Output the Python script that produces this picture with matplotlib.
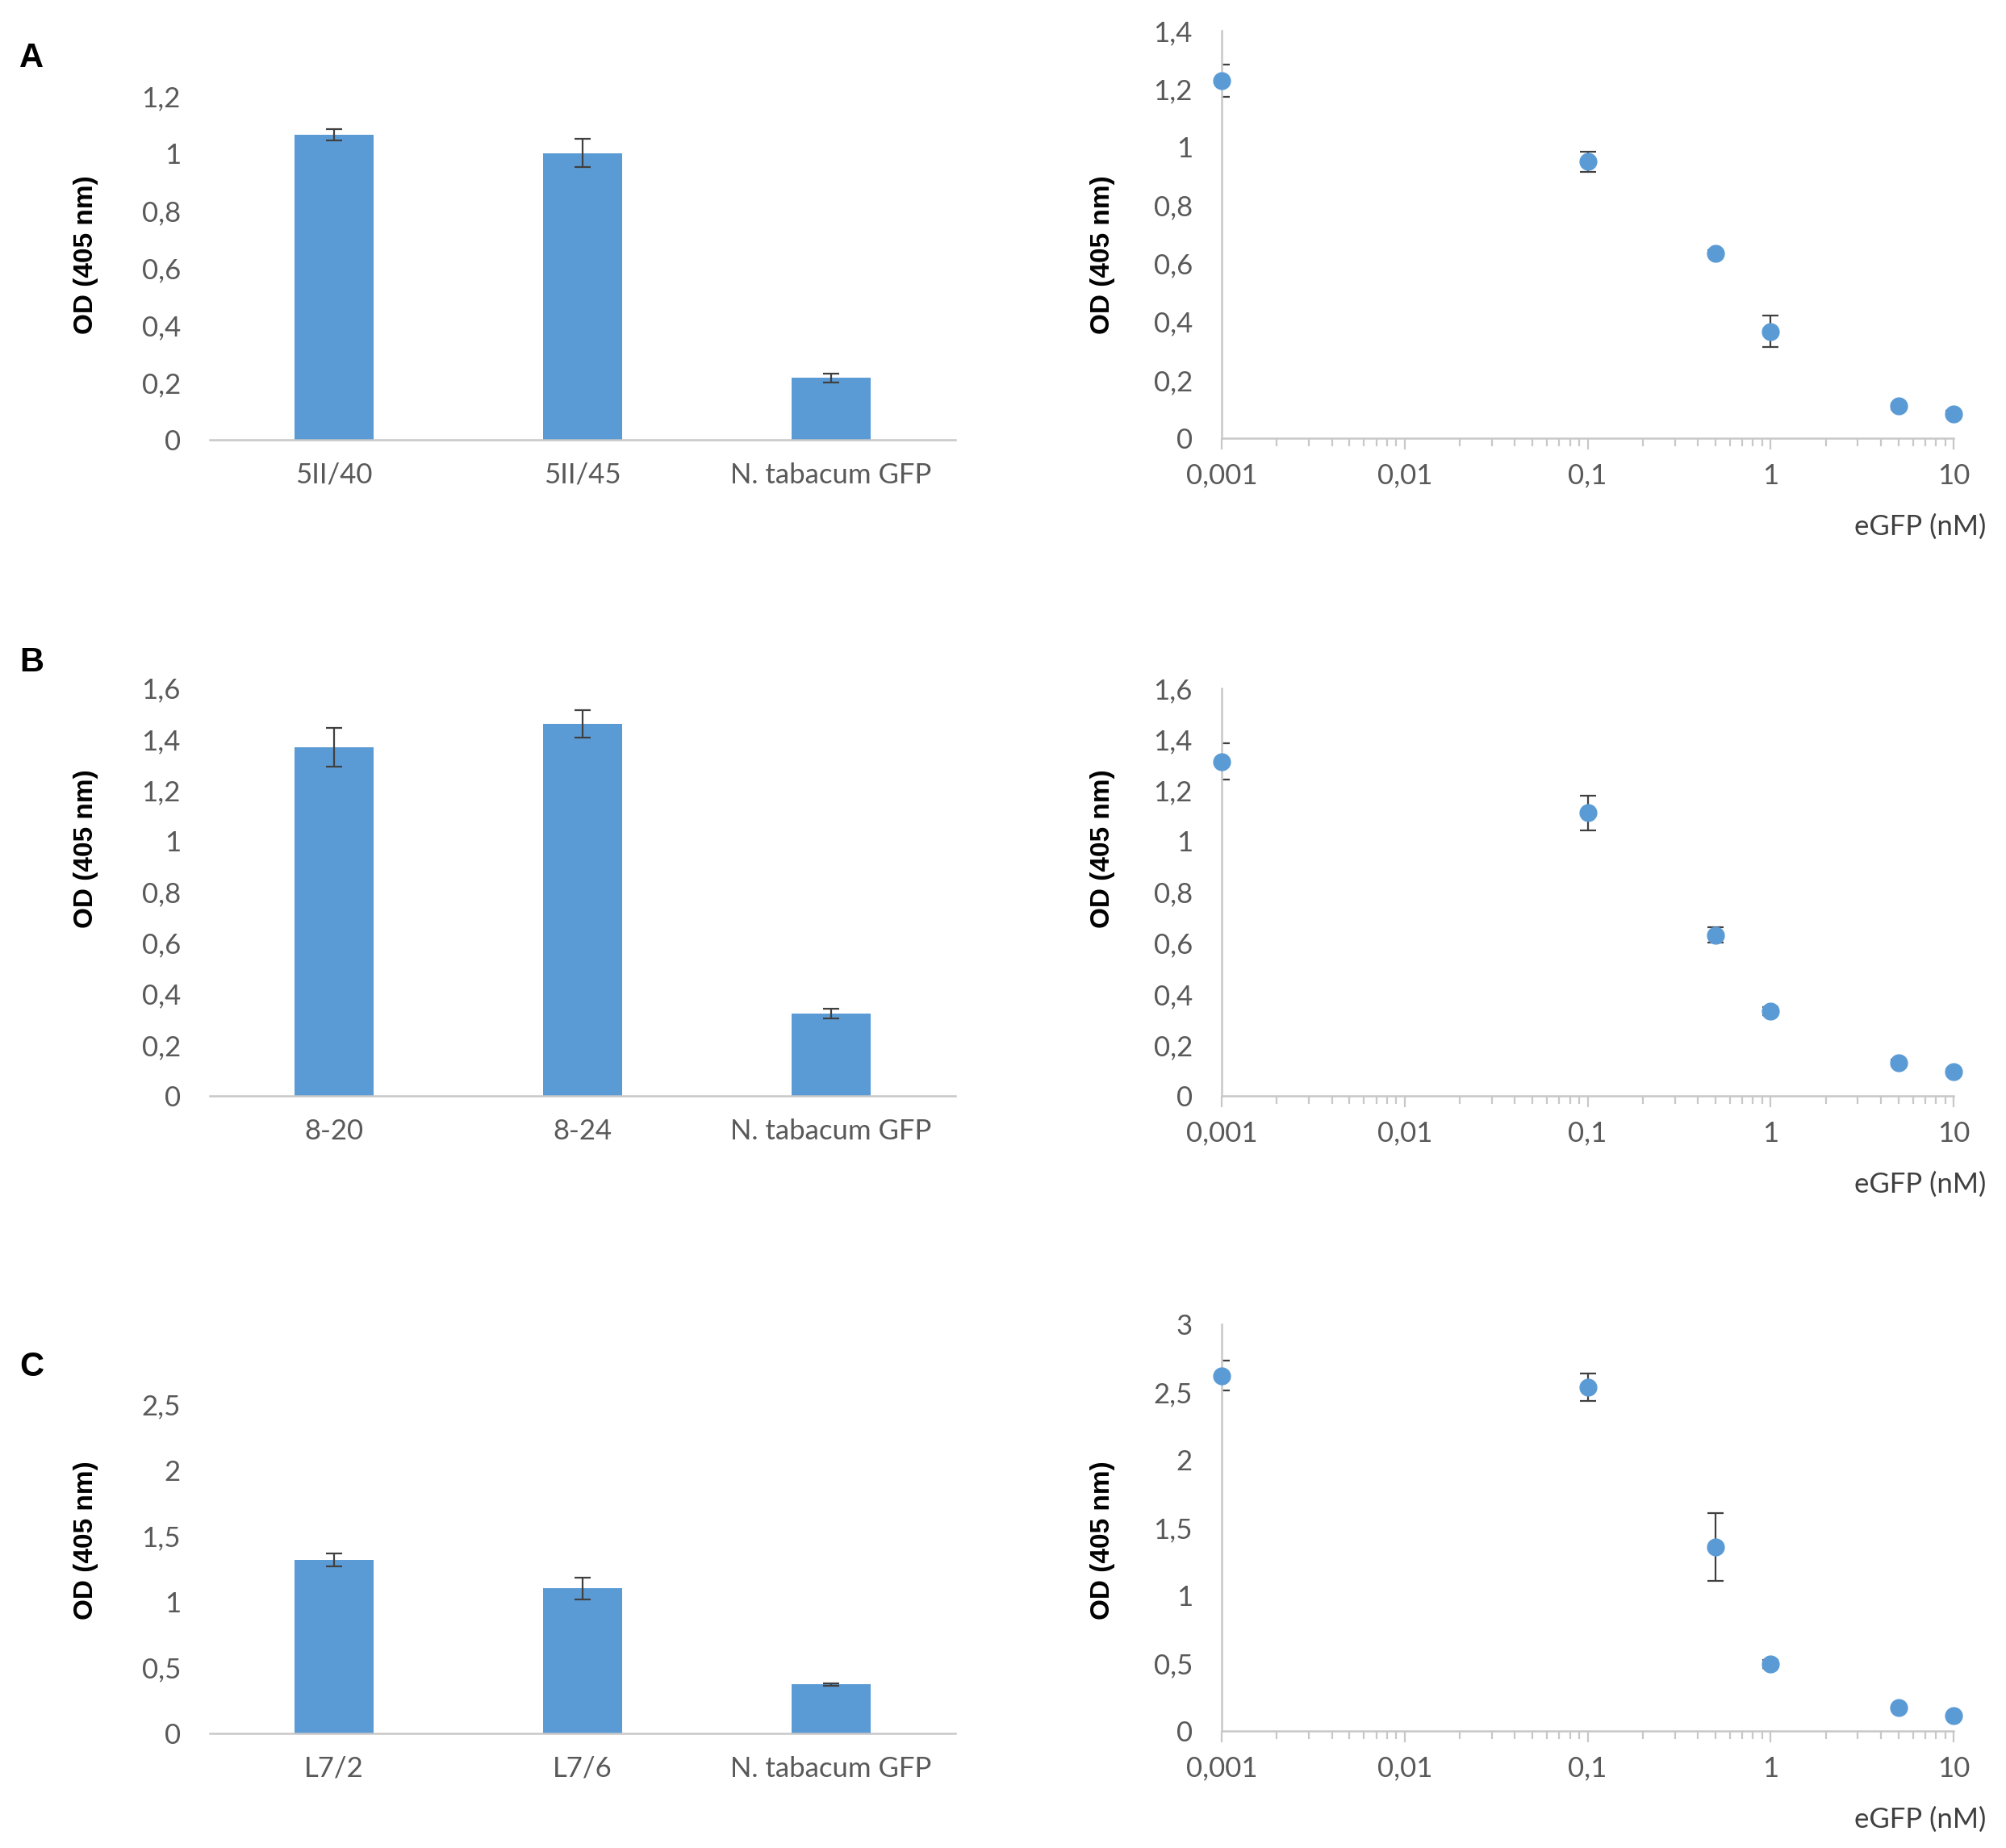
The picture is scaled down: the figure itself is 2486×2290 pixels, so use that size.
import matplotlib
matplotlib.use('Agg')
import matplotlib.pyplot as plt
import numpy as np
from matplotlib.ticker import FuncFormatter, LogLocator, NullFormatter, MultipleLocator

# bar charts (left column)
bar_labels_a = ['5II/40', '5II/45', 'N. tabacum GFP']
bar_a = [1.065, 1.002, 0.216]
bar_err_a = [0.02, 0.05, 0.015]

bar_labels_b = ['8-20', '8-24', 'N. tabacum GFP']
bar_b = [1.368, 1.46, 0.323]
bar_err_b = [0.075, 0.053, 0.02]

bar_labels_c = ['L7/2', 'L7/6', 'N. tabacum GFP']
bar_c = [1.318, 1.10, 0.371]
bar_err_c = [0.05, 0.08, 0.01]

# eGFP titration (right column)
egfp = [0.001, 0.1, 0.5, 1, 5, 10]
od_a = [1.228, 0.95, 0.636, 0.367, 0.11, 0.084]
sd_a = [0.055, 0.035, 0.01, 0.055, 0.01, 0.01]
od_b = [1.313, 1.111, 0.631, 0.333, 0.131, 0.096]
sd_b = [0.072, 0.068, 0.03, 0.015, 0.01, 0.01]
od_c = [2.62, 2.535, 1.358, 0.494, 0.171, 0.114]
sd_c = [0.11, 0.1, 0.25, 0.03, 0.01, 0.01]

W, H = 2486, 2290
BLUE = '#5B9BD5'
AXCOL = '#C8C8C8'
TXT = '#595959'
ERRCOL = '#404040'
TICKFONT = 'Lato'
TICKSIZE = 25

fig = plt.figure(figsize=(W / 100, H / 100), dpi=100)


def px_axes(x0, y0, x1, y1):
    return fig.add_axes([x0 / W, 1 - y1 / H, (x1 - x0) / W, (y1 - y0) / H])


def comma(v, pos=None):
    s = ('%.3f' % v).rstrip('0').rstrip('.')
    return s.replace('.', ',')


def bar_panel(box, labels, vals, errs, ymax, step):
    ax = px_axes(*box)
    x = np.arange(len(vals))
    ax.bar(x, vals, width=0.316, color=BLUE, zorder=2)
    ax.errorbar(x, vals, yerr=errs, fmt='none', ecolor=ERRCOL, elinewidth=1.6,
                capsize=7, capthick=1.6, zorder=3)
    ax.set_xlim(-0.5, len(vals) - 0.5)
    ax.set_ylim(0, ymax)
    ax.yaxis.set_major_locator(MultipleLocator(step))
    ax.yaxis.set_major_formatter(FuncFormatter(comma))
    ax.set_xticks(x, labels)
    for s in ['top', 'right', 'left']:
        ax.spines[s].set_visible(False)
    ax.spines['bottom'].set_color(AXCOL)
    ax.spines['bottom'].set_linewidth(1.8)
    ax.tick_params(axis='both', length=0, labelsize=TICKSIZE, labelcolor=TXT)
    ax.tick_params(axis='y', pad=26)
    ax.tick_params(axis='x', pad=20)
    for lab in ax.get_xticklabels() + ax.get_yticklabels():
        lab.set_fontfamily(TICKFONT)
    return ax


def scatter_panel(box, vals, errs, ymax, step):
    ax = px_axes(*box)
    ax.set_xscale('log')
    ax.errorbar(egfp, vals, yerr=errs, fmt='none', ecolor=ERRCOL, elinewidth=1.6,
                capsize=7, capthick=1.6, zorder=2)
    ax.plot(egfp, vals, 'o', color=BLUE, markersize=15, clip_on=False, zorder=3)
    ax.set_xlim(0.001, 10)
    ax.set_ylim(0, ymax)
    ax.yaxis.set_major_locator(MultipleLocator(step))
    ax.yaxis.set_major_formatter(FuncFormatter(comma))
    ax.xaxis.set_major_locator(LogLocator(base=10, numticks=10))
    ax.xaxis.set_major_formatter(FuncFormatter(comma))
    ax.xaxis.set_minor_locator(LogLocator(base=10, subs=np.arange(2, 10), numticks=20))
    ax.xaxis.set_minor_formatter(NullFormatter())
    for s in ['top', 'right']:
        ax.spines[s].set_visible(False)
    for s in ['bottom', 'left']:
        ax.spines[s].set_color(AXCOL)
        ax.spines[s].set_linewidth(1.8)
    ax.tick_params(axis='y', length=0, pad=26)
    ax.tick_params(axis='x', which='major', length=10, width=1.6, color=AXCOL, pad=12)
    ax.tick_params(axis='x', which='minor', length=7, width=1.6, color=AXCOL)
    ax.tick_params(axis='both', labelsize=TICKSIZE, labelcolor=TXT)
    for lab in ax.get_xticklabels() + ax.get_yticklabels():
        lab.set_fontfamily(TICKFONT)
    ax.text(1.045, -0.218, 'eGFP (nM)', transform=ax.transAxes, ha='right', va='center',
            fontsize=TICKSIZE, color='#404040', family=TICKFONT)
    return ax


bar_panel((260, 119.5, 1184, 545), bar_labels_a, bar_a, bar_err_a, 1.2, 0.2)
bar_panel((260, 852.6, 1184, 1358), bar_labels_b, bar_b, bar_err_b, 1.6, 0.2)
bar_panel((260, 1740, 1184, 2148), bar_labels_c, bar_c, bar_err_c, 2.5, 0.5)

scatter_panel((1514, 38, 2421, 543), od_a, sd_a, 1.4, 0.2)
scatter_panel((1514, 853, 2421, 1358), od_b, sd_b, 1.6, 0.2)
scatter_panel((1514, 1641, 2421, 2145), od_c, sd_c, 3, 0.5)

# y labels and panel letters
for yc in [316, 1052, 1909]:
    for xc in [107, 1366]:
        fig.text(xc / W, 1 - yc / H, 'OD (405 nm)', rotation=90, ha='center', va='center',
                 fontsize=24, fontweight='bold', color='black', family='Liberation Sans')

for letter, yc in zip(['A', 'B', 'C'], [72, 821, 1694]):
    fig.text(24 / W, 1 - yc / H, letter, ha='left', va='center', fontsize=30,
             fontweight='bold', color='black', family='Liberation Sans')

fig.savefig('out.png', dpi=100)
